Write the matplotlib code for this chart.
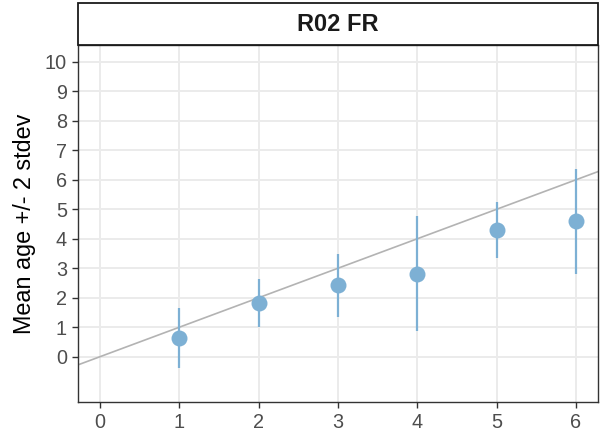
import matplotlib
matplotlib.use("Agg")
import matplotlib.pyplot as plt
from matplotlib.patches import Rectangle

# Observed age classes and their mean ages with 2 standard deviations
ages = [1, 2, 3, 4, 5, 6]
mean_age = [0.62, 1.83, 2.42, 2.82, 4.30, 4.59]
two_sd = [1.02, 0.82, 1.06, 1.95, 0.95, 1.78]

x_ticks = [0, 1, 2, 3, 4, 5, 6]
y_ticks = [0, 1, 2, 3, 4, 5, 6, 7, 8, 9, 10]
panel_title = "R02 FR"
y_title = "Mean age +/- 2 stdev"

plt.rcParams["font.family"] = ["Liberation Sans", "DejaVu Sans"]

point_col = "#7db0d4"
grid_col = "#ebebeb"
frame_col = "#333333"
tick_text_col = "#4d4d4d"

fig = plt.figure(figsize=(6.09, 4.40), dpi=100)
W, H = 609, 440
left, right, top, bottom = 78 / W, 598 / W, 45.5 / H, 402 / H
ax = fig.add_axes([left, 1 - bottom, right - left, bottom - top])

ax.set_xticks(x_ticks)
ax.set_yticks(y_ticks)
ax.set_xlim(-0.28, 6.28)
ax.set_ylim(-1.54, 10.56)
ax.grid(True, which="major", color=grid_col, linewidth=1.4)
ax.set_axisbelow(True)

# 1:1 reference line
ax.axline((0, 0), slope=1, color="#b3b3b3", linewidth=1.2, zorder=2)

ax.errorbar(ages, mean_age, yerr=two_sd, fmt="none", ecolor=point_col,
            elinewidth=1.6, capsize=0, zorder=3)
ax.plot(ages, mean_age, "o", color=point_col, markersize=11.5,
        markeredgewidth=0, zorder=4)

for s in ax.spines.values():
    s.set_color(frame_col)
    s.set_linewidth(1.0)

ax.tick_params(which="major", length=4, width=1.0, color=frame_col,
               labelsize=14.3, labelcolor=tick_text_col, pad=4)
ax.set_ylabel(y_title, fontsize=16.8, color="black", labelpad=6)

# facet strip above the panel
strip_top = 3 / H
strip = Rectangle((left, 1 - top), right - left, top - strip_top,
                  transform=fig.transFigure, facecolor="white",
                  edgecolor="#1a1a1a", linewidth=1.3)
fig.add_artist(strip)
fig.text((left + right) / 2, 1 - (top + strip_top) / 2, panel_title,
         ha="center", va="center", fontsize=17, fontweight="bold",
         color="#1a1a1a")

fig.savefig("out.png", dpi=100)
